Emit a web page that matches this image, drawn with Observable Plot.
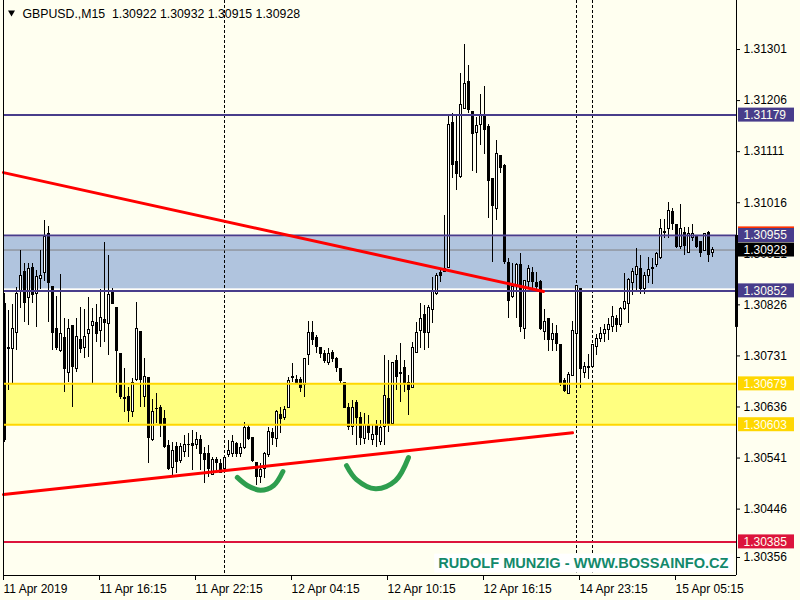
<!DOCTYPE html>
<html><head><meta charset="utf-8">
<script src="https://cdn.jsdelivr.net/npm/d3@7"></script>
<script src="https://cdn.jsdelivr.net/npm/@observablehq/plot@0.6"></script>
<style>
html,body{margin:0;padding:0;background:#FFFFF0;overflow:hidden;}
#chart svg{display:block;}
</style></head><body><div id="chart"></div>
<script>
// ---- data (GBPUSD M15, bar index 0 = 11 Apr 2019 10:15) ----
const opens = [
1.30827,1.30745,1.30743,1.30774,1.30849,1.30888,1.30838,1.30895,1.30847,1.30875,
1.30886,1.30957,1.30860,1.30782,1.30741,1.30765,1.30700,1.30786,1.30706,1.30760,
1.30745,1.30771,1.30786,1.30793,1.30778,1.30797,1.30791,1.30851,1.30821,1.30735,
1.30652,1.30654,1.30626,1.30687,1.30776,1.30655,1.30689,1.30575,1.30633,1.30635,
1.30613,1.30564,1.30523,1.30561,1.30536,1.30553,1.30566,1.30568,1.30566,1.30575,
1.30549,1.30548,1.30510,1.30538,1.30529,1.30521,1.30546,1.30549,1.30568,1.30549,
1.30559,1.30596,1.30579,1.30531,1.30505,1.30521,1.30546,1.30587,1.30577,1.30622,
1.30616,1.30635,1.30691,1.30687,1.30687,1.30676,1.30732,1.30773,1.30765,1.30745,
1.30735,1.30717,1.30737,1.30726,1.30706,1.30680,1.30635,1.30598,1.30644,1.30616,
1.30577,1.30603,1.30575,1.30602,1.30570,1.30598,1.30650,1.30605,1.30722,1.30698,
1.30708,1.30680,1.30672,1.30737,1.30778,1.30808,1.30773,1.30817,1.30847,1.30886,
1.30888,1.30895,1.31165,1.31091,1.31063,1.31191,1.31241,1.31185,1.31146,1.31161,
1.31180,1.31156,1.31061,1.31005,1.31102,1.31085,1.30903,1.30840,1.30862,1.30901,
1.30782,1.30868,1.30886,1.30866,1.30868,1.30776,1.30800,1.30760,1.30771,1.30752,
1.30685,1.30661,1.30694,1.30771,1.30856,1.30700,1.30711,1.30711,1.30747,1.30763,
1.30771,1.30780,1.30784,1.30800,1.30788,1.30819,1.30827,1.30866,1.30882,1.30892,
1.30856,1.30879,1.30892,1.30901,1.30914,1.30962,1.30968,1.30998,1.30975,1.30933,
1.30960,1.30923,1.30951,1.30955,1.30942,1.30927,1.30960,1.30922];
const highs = [
1.30847,1.30815,1.30827,1.30858,1.30927,1.30903,1.30903,1.30903,1.30890,1.30927,
1.30983,1.30972,1.30860,1.30841,1.30882,1.30800,1.30799,1.30786,1.30800,1.30821,
1.30817,1.30840,1.30819,1.30827,1.30854,1.30942,1.30918,1.30856,1.30821,1.30735,
1.30708,1.30672,1.30689,1.30830,1.30776,1.30726,1.30689,1.30650,1.30661,1.30639,
1.30629,1.30574,1.30570,1.30570,1.30568,1.30583,1.30587,1.30592,1.30588,1.30583,
1.30561,1.30564,1.30542,1.30542,1.30538,1.30542,1.30574,1.30583,1.30570,1.30568,
1.30607,1.30602,1.30579,1.30533,1.30531,1.30551,1.30598,1.30596,1.30629,1.30635,
1.30637,1.30691,1.30717,1.30694,1.30691,1.30726,1.30795,1.30795,1.30769,1.30747,
1.30741,1.30745,1.30741,1.30728,1.30708,1.30681,1.30642,1.30648,1.30648,1.30626,
1.30624,1.30620,1.30602,1.30611,1.30611,1.30732,1.30722,1.30717,1.30732,1.30754,
1.30722,1.30694,1.30756,1.30793,1.30828,1.30825,1.30825,1.30877,1.30884,1.30894,
1.30992,1.31180,1.31182,1.31178,1.31256,1.31310,1.31271,1.31185,1.31174,1.31217,
1.31232,1.31161,1.31061,1.31132,1.31102,1.31087,1.30912,1.30903,1.30903,1.30921,
1.30871,1.30899,1.30895,1.30886,1.30871,1.30817,1.30800,1.30791,1.30788,1.30752,
1.30689,1.30700,1.30795,1.30862,1.30856,1.30719,1.30734,1.30752,1.30771,1.30784,
1.30789,1.30800,1.30823,1.30806,1.30821,1.30884,1.30875,1.30894,1.30931,1.30918,
1.30886,1.30914,1.30912,1.30923,1.30985,1.30985,1.31016,1.31005,1.30975,1.31013,
1.30970,1.30970,1.30975,1.30955,1.30942,1.30959,1.30962,1.30932];
const lows = [
1.30570,1.30667,1.30680,1.30741,1.30819,1.30793,1.30788,1.30828,1.30784,1.30854,
1.30869,1.30793,1.30741,1.30741,1.30737,1.30663,1.30681,1.30635,1.30700,1.30735,
1.30726,1.30728,1.30680,1.30756,1.30747,1.30756,1.30732,1.30827,1.30661,1.30650,
1.30626,1.30607,1.30616,1.30683,1.30635,1.30635,1.30531,1.30572,1.30605,1.30579,
1.30559,1.30518,1.30505,1.30512,1.30531,1.30542,1.30542,1.30518,1.30557,1.30518,
1.30494,1.30505,1.30508,1.30518,1.30512,1.30518,1.30542,1.30542,1.30542,1.30542,
1.30557,1.30574,1.30533,1.30490,1.30494,1.30503,1.30542,1.30564,1.30561,1.30587,
1.30611,1.30633,1.30681,1.30678,1.30663,1.30654,1.30713,1.30750,1.30735,1.30726,
1.30717,1.30713,1.30719,1.30700,1.30680,1.30633,1.30592,1.30583,1.30564,1.30564,
1.30566,1.30574,1.30564,1.30561,1.30564,1.30564,1.30588,1.30602,1.30667,1.30644,
1.30663,1.30620,1.30670,1.30735,1.30745,1.30741,1.30745,1.30791,1.30843,1.30868,
1.30886,1.30894,1.31061,1.31039,1.31061,1.31189,1.31182,1.31074,1.31070,1.31122,
1.31106,1.30987,1.30905,1.30983,1.31070,1.30901,1.30800,1.30838,1.30800,1.30774,
1.30762,1.30856,1.30856,1.30849,1.30778,1.30760,1.30739,1.30739,1.30739,1.30674,
1.30663,1.30661,1.30694,1.30680,1.30670,1.30689,1.30687,1.30709,1.30732,1.30756,
1.30756,1.30760,1.30774,1.30774,1.30784,1.30815,1.30791,1.30843,1.30853,1.30845,
1.30845,1.30866,1.30864,1.30895,1.30910,1.30949,1.30949,1.30964,1.30931,1.30929,
1.30918,1.30921,1.30944,1.30931,1.30914,1.30925,1.30905,1.30915];
const closes = [
1.30574,1.30744,1.30782,1.30847,1.30880,1.30830,1.30892,1.30845,1.30877,1.30880,
1.30953,1.30866,1.30774,1.30745,1.30771,1.30706,1.30782,1.30711,1.30767,1.30743,
1.30767,1.30780,1.30795,1.30771,1.30802,1.30793,1.30845,1.30827,1.30741,1.30654,
1.30651,1.30629,1.30680,1.30782,1.30687,1.30691,1.30579,1.30626,1.30632,1.30605,
1.30562,1.30521,1.30555,1.30533,1.30561,1.30566,1.30565,1.30564,1.30575,1.30548,
1.30538,1.30521,1.30538,1.30531,1.30514,1.30542,1.30555,1.30570,1.30549,1.30559,
1.30596,1.30577,1.30535,1.30505,1.30518,1.30548,1.30590,1.30579,1.30626,1.30614,
1.30631,1.30685,1.30689,1.30681,1.30672,1.30726,1.30773,1.30760,1.30747,1.30735,
1.30721,1.30735,1.30726,1.30708,1.30685,1.30635,1.30598,1.30635,1.30616,1.30579,
1.30602,1.30587,1.30583,1.30583,1.30596,1.30657,1.30602,1.30717,1.30691,1.30700,
1.30680,1.30667,1.30745,1.30774,1.30800,1.30773,1.30821,1.30849,1.30880,1.30880,
1.30892,1.31161,1.31087,1.31070,1.31197,1.31236,1.31189,1.31143,1.31158,1.31178,
1.31152,1.31057,1.31009,1.31106,1.31080,1.30905,1.30834,1.30860,1.30901,1.30784,
1.30871,1.30892,1.30869,1.30860,1.30782,1.30795,1.30760,1.30771,1.30754,1.30680,
1.30665,1.30696,1.30778,1.30862,1.30706,1.30711,1.30708,1.30752,1.30762,1.30771,
1.30780,1.30788,1.30804,1.30788,1.30819,1.30832,1.30873,1.30888,1.30897,1.30856,
1.30880,1.30890,1.30895,1.30921,1.30968,1.30959,1.31001,1.30977,1.30934,1.30968,
1.30936,1.30957,1.30957,1.30933,1.30923,1.30957,1.30918,1.30928];

// axis ticks
const xTicks = [0, 24, 48, 72, 96, 120, 144, 168];
const xTickLabels = ["11 Apr 2019","11 Apr 16:15","11 Apr 22:15","12 Apr 04:15","12 Apr 10:15","12 Apr 16:15","14 Apr 23:15","15 Apr 05:15"];
const yTicks = [1.31301,1.31206,1.31111,1.31016,1.30921,1.30826,1.30731,1.30636,1.30541,1.30446,1.30356];

// chart objects
const separators = [55, 143, 147];
const levelPrices = [1.31179, 1.30955, 1.30852, 1.30679, 1.30603, 1.30385];
const levelColors = ["#483D8B","#483D8B","#483D8B","#FFD700","#FFD700","#DC143C"];
const blueZone = [1.30955, 1.30852];
const yellowZone = [1.30679, 1.30603];
const bidPrice = 1.30928;
const askPrice = 1.30958;
const edgeBar = [1.30955, 1.30784];
const trend1 = [{i: -0.25, p: 1.31072}, {i: 134.75, p: 1.30851}];
const trend2 = [{i: -0.25, p: 1.30473}, {i: 142, p: 1.30588}];
const arc1 = [{i:58.2,p:1.30505},{i:60.7,p:1.30490},{i:64,p:1.30481},{i:67.3,p:1.30490},{i:69.6,p:1.30516}];
const arc2 = [{i:85.5,p:1.30527},{i:88,p:1.30501},{i:92.75,p:1.30484},{i:97.75,p:1.30499},{i:101,p:1.30542}];
const symbol = "GBPUSD.,M15";
const watermark = "RUDOLF MUNZIG - WWW.BOSSAINFO.CZ";

// ---- build ----
const n = closes.length;
const candles = d3.range(n).map(i => ({i, o: opens[i], h: highs[i], l: lows[i], c: closes[i]}));
const xDom = [-0.25, 183];
const yDom = [1.303225, 1.313922];
const fmt = d => d.toFixed(5);
const title = `${symbol}\u00a0\u00a0${fmt(opens[n-1])} ${fmt(highs[n-1])} ${fmt(lows[n-1])} ${fmt(closes[n-1])}`;
const labels = levelPrices.map((p, k) => ({p, bg: levelColors[k], fg: "#FFFFF0"}))
  .concat([{p: bidPrice, bg: "black", fg: "white"}]);
const FONT = "'Liberation Sans', Arial, sans-serif";

const plot = Plot.plot({
  width: 800, height: 600,
  marginLeft: 3, marginRight: 64, marginTop: 0, marginBottom: 25,
  style: {background: "#FFFFF0", fontFamily: FONT, fontSize: "12px", color: "black"},
  x: {type: "linear", domain: xDom, axis: null, label: null},
  y: {type: "linear", domain: yDom, axis: null, label: null},
  marks: [
    Plot.rect([blueZone], {x1: () => xDom[0], x2: () => xDom[1], y1: d => d[0], y2: d => d[1],
      fill: "#B0C4DE", stroke: "white", strokeWidth: 1, insetTop: 1.5, insetBottom: 1.5}),
    Plot.rect([yellowZone], {x1: () => xDom[0], x2: () => xDom[1], y1: d => d[0], y2: d => d[1], fill: "#FFFF80"}),
    Plot.ruleX(separators, {stroke: "black", strokeWidth: 1, strokeDasharray: "3,2"}),
    Plot.ruleY([bidPrice], {stroke: "#808080", strokeWidth: 1}),
    Plot.ruleX(candles, {x: "i", y1: "l", y2: "h", stroke: "black", strokeWidth: 1, shapeRendering: "crispEdges"}),
    Plot.rect(candles, {x1: d => d.i - 0.25, x2: d => d.i + 0.25, y1: "o", y2: "c",
      insetLeft: 0.5, insetRight: -0.5,
      fill: d => d.c >= d.o ? "white" : "black", stroke: "black", strokeWidth: 1, shapeRendering: "crispEdges"}),
    Plot.ruleY(levelPrices, {stroke: (d, k) => levelColors[k], strokeWidth: 2}),
    Plot.line(trend1, {x: "i", y: "p", stroke: "#FF0000", strokeWidth: 3}),
    Plot.line(trend2, {x: "i", y: "p", stroke: "#FF0000", strokeWidth: 3}),
    Plot.line(arc1, {x: "i", y: "p", curve: "catmull-rom", stroke: "#2E9E4E", strokeWidth: 5, strokeLinecap: "round"}),
    Plot.line(arc2, {x: "i", y: "p", curve: "catmull-rom", stroke: "#2E9E4E", strokeWidth: 5, strokeLinecap: "round"}),
    Plot.ruleX([xDom[0], xDom[1]], {stroke: "black", strokeWidth: 1}),
    Plot.ruleY([yDom[0]], {stroke: "black", strokeWidth: 1}),
    Plot.ruleX([xDom[1]], {y1: () => edgeBar[0], y2: () => edgeBar[1], stroke: "black", strokeWidth: 3}),
    Plot.axisY({anchor: "right", ticks: yTicks, tickFormat: fmt, tickSize: 3, tickPadding: 4, label: null, fontSize: 12}),
    Plot.axisX({ticks: xTicks, tickFormat: d => xTickLabels[xTicks.indexOf(d)], tickSize: 5, tickPadding: 4,
      textAnchor: "start", dx: -1, label: null, fontSize: 12}),
    // ask-price label (mostly hidden under the 1.30955 label)
    Plot.rect([askPrice], {x1: () => 183.5, x2: () => 197.5, y1: d => d, y2: d => d, insetTop: -7, insetBottom: -7, fill: "#FF3300"}),
    Plot.rect(labels, {x1: () => 183.5, x2: () => 197.5, y1: "p", y2: "p", insetTop: -7, insetBottom: -7, fill: "bg"}),
    Plot.text(labels, {x: () => 184.75, y: "p", text: d => fmt(d.p), fill: "fg", textAnchor: "start", fontSize: 12}),
    Plot.text([title], {frameAnchor: "top-left", text: d => d, dx: 19, dy: 8.5, lineAnchor: "top", textAnchor: "start", fontSize: 12.3, fill: "black"}),
    Plot.dot([0], {frameAnchor: "top-left", symbol: "triangle", rotate: 180, r: 2.6, fill: "black", dx: 8, dy: 12}),
    Plot.text([watermark], {frameAnchor: "bottom-right", text: d => d, dx: -8, dy: -12.5, lineAnchor: "middle", textAnchor: "end",
      fontSize: 14.6, fontWeight: "bold", fill: "#13896B", className: "wm"})
  ]
});
document.getElementById("chart").append(plot);

// white background box behind the watermark text
const wmG = plot.querySelector("g.wm");
if (wmG) {
  const sb = plot.getBoundingClientRect();
  const tb = wmG.getBoundingClientRect();
  const r = document.createElementNS("http://www.w3.org/2000/svg", "rect");
  r.setAttribute("x", tb.left - sb.left - 4);
  r.setAttribute("y", tb.top - sb.top - 1);
  r.setAttribute("width", tb.width + 9);
  r.setAttribute("height", tb.height + 3);
  r.setAttribute("fill", "white");
  wmG.parentNode.insertBefore(r, wmG);
}
</script>
</body></html>
